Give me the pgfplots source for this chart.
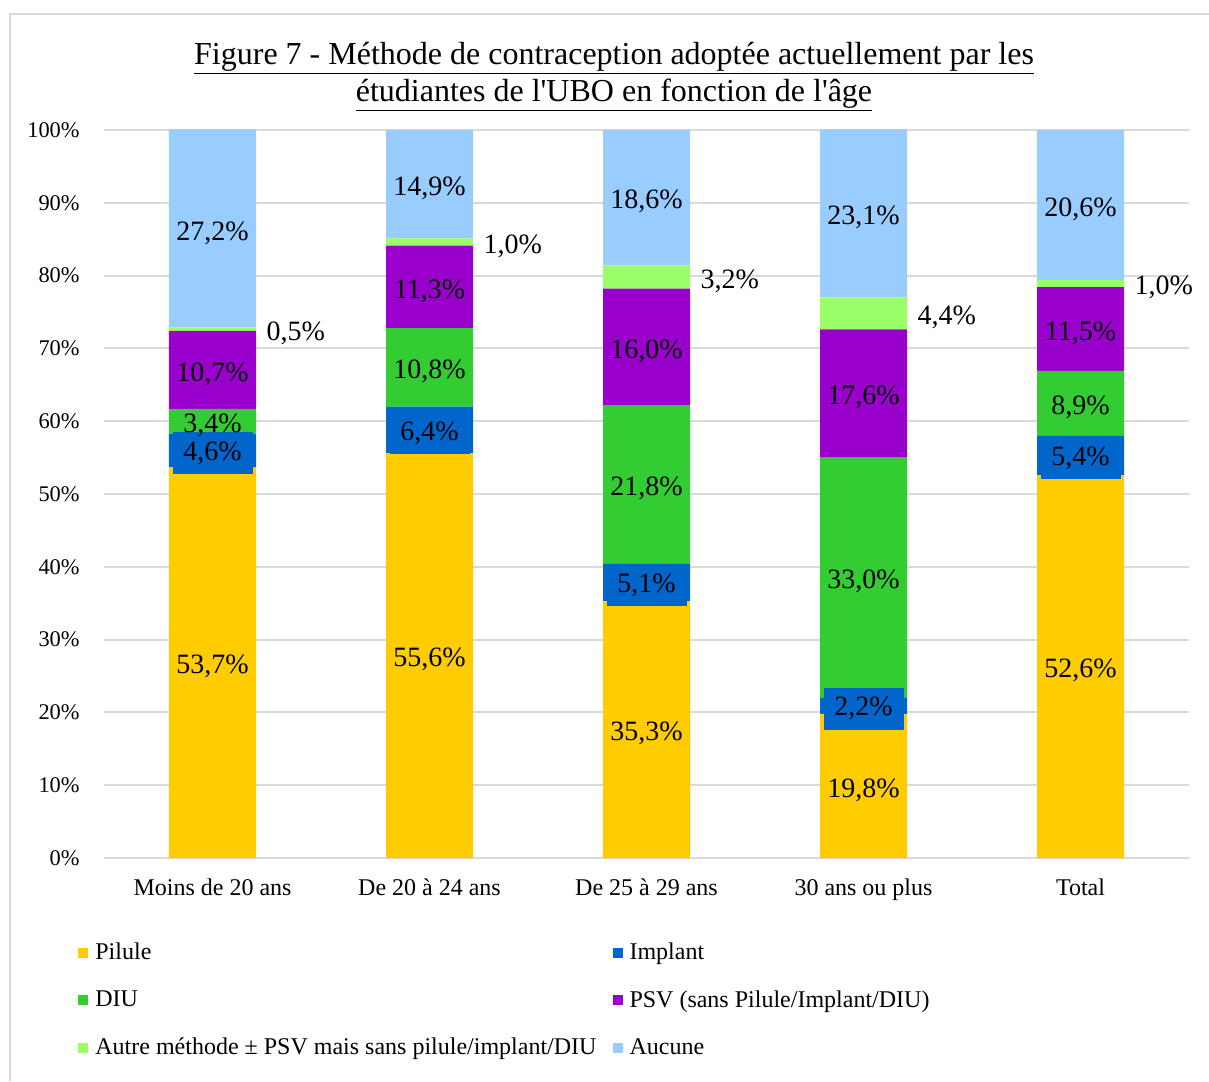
\documentclass[border=0pt]{standalone}
\usepackage{pgfplots}
\pgfplotsset{compat=1.18}
\usepackage{fontspec}
\setmainfont{Liberation Serif}[Ligatures=TeXOff]
\definecolor{cPil}{HTML}{FFCC00}
\definecolor{cImp}{HTML}{0066CC}
\definecolor{cDiu}{HTML}{33CC33}
\definecolor{cPsv}{HTML}{9900CC}
\definecolor{cAut}{HTML}{99FF66}
\definecolor{cAuc}{HTML}{99CCFF}
\definecolor{cGrid}{HTML}{D9D9D9}
\begin{document}
\begin{tikzpicture}[x=0.5pt,y=0.5pt]
\path[use as bounding box] (0,0) rectangle (1209,1081);
\draw[cGrid, line width=1pt] (10,0) -- (10,1067) -- (1209,1067);
\node[align=center, font=\fontsize{16}{18.5}\selectfont] at (614,1004) {\underline{Figure 7 - Méthode de contraception adoptée actuellement par les}\\\underline{étudiantes de l'UBO en fonction de l'âge}};
\begin{axis}[
  at={(52pt,111.5pt)}, anchor=south west,
  scale only axis, width=542.5pt, height=364pt,
  ybar stacked, bar width=43.5pt,
  xmin=-0.5, xmax=4.5, ymin=0, ymax=100,
  xtick={0,1,2,3,4},
  xticklabels={Moins de 20 ans, De 20 à 24 ans, De 25 à 29 ans, 30 ans ou plus, Total},
  ytick={0,10,20,30,40,50,60,70,80,90,100},
  yticklabels={0\%,10\%,20\%,30\%,40\%,50\%,60\%,70\%,80\%,90\%,100\%},
  ymajorgrids, grid style={cGrid, line width=1pt},
  axis line style={draw=none}, major tick length=0pt,
  yticklabel style={anchor=east, inner sep=0pt, xshift=-12pt, font=\fontsize{11.2}{13}\selectfont},
  xticklabel style={anchor=north, inner sep=0pt, yshift=-10pt, font=\fontsize{12}{14}\selectfont},
  legend columns=2,
  legend cell align=left,
  legend style={at={(-0.0295,-0.105)}, anchor=north west, draw=none, fill=none,
    font=\fontsize{12}{14}\selectfont, row sep=10pt,
    /tikz/every even column/.append style={column sep=6pt},
    nodes={inner sep=2pt}},
  legend image code/.code={\fill[#1] (0pt,-2.5pt) rectangle (5pt,2.5pt); \path (6.5pt,0pt);},
]
\addplot[fill=cPil, draw=none] coordinates {(0,53.7) (1,55.6) (2,35.3) (3,19.8) (4,52.6)};
\addlegendentry{Pilule}
\addplot[fill=cImp, draw=none] coordinates {(0,4.6) (1,6.4) (2,5.1) (3,2.2) (4,5.4)};
\addlegendentry{Implant}
\addplot[fill=cDiu, draw=none] coordinates {(0,3.4) (1,10.8) (2,21.8) (3,33.0) (4,8.9)};
\addlegendentry{DIU}
\addplot[fill=cPsv, draw=none] coordinates {(0,10.7) (1,11.3) (2,16.0) (3,17.6) (4,11.5)};
\addlegendentry{PSV (sans Pilule/Implant/DIU)}
\addplot[fill=cAut, draw=none] coordinates {(0,0.5) (1,1.0) (2,3.2) (3,4.4) (4,1.0)};
\addlegendentry{Autre méthode ± PSV mais sans pilule/implant/DIU}
\addplot[fill=cAuc, draw=none] coordinates {(0,27.2) (1,14.9) (2,18.6) (3,23.1) (4,20.6)};
\addlegendentry{Aucune}
\end{axis}
\begin{axis}[
  at={(52pt,111.5pt)}, anchor=south west,
  scale only axis, width=542.5pt, height=364pt,
  xmin=-0.5, xmax=4.5, ymin=0, ymax=100,
  hide axis, clip=false,
  /pgf/number format/assume math mode=true,
  point meta=explicit,
  nodes near coords={\pgfmathprintnumber[fixed,fixed zerofill,precision=1,use comma]{\pgfplotspointmeta}\%},
  every node near coord/.append style={font=\fontsize{14}{16}\selectfont, anchor=center, text=black},
]
% Implant (boxed)
\addplot[draw=none, no markers, every node near coord/.append style={fill=cImp, minimum width=40pt, minimum height=21pt, inner sep=0pt, anchor=center, yshift=-1.5pt}]
  coordinates {(0,56.0)[4.6] (1,58.8)[6.4] (2,37.85)[5.1] (3,20.9)[2.2] (4,55.3)[5.4]};
% Pilule
\addplot[draw=none, no markers, every node near coord/.append style={anchor=center, yshift=-2pt}]
  coordinates {(0,26.85)[53.7] (1,27.8)[55.6] (2,17.65)[35.3] (3,9.9)[19.8] (4,26.3)[52.6]};
% DIU
\addplot[draw=none, no markers, every node near coord/.append style={anchor=center, yshift=-2pt}]
  coordinates {(0,60.0)[3.4] (1,67.4)[10.8] (2,51.3)[21.8] (3,38.5)[33.0] (4,62.45)[8.9]};
% PSV
\addplot[draw=none, no markers, every node near coord/.append style={anchor=center, yshift=-2pt}]
  coordinates {(0,67.05)[10.7] (1,78.45)[11.3] (2,70.2)[16.0] (3,63.8)[17.6] (4,72.65)[11.5]};
% Aucune
\addplot[draw=none, no markers, every node near coord/.append style={anchor=center, yshift=-2pt}]
  coordinates {(0,86.4)[27.2] (1,92.55)[14.9] (2,90.7)[18.6] (3,88.5)[23.1] (4,89.7)[20.6]};
% Autre (to the right)
\addplot[draw=none, no markers, every node near coord/.append style={anchor=west, xshift=23.5pt, yshift=-2pt}]
  coordinates {(0,72.65)[0.5] (1,84.6)[1.0] (2,79.8)[3.2] (3,74.8)[4.4] (4,78.9)[1.0]};
\end{axis}
\end{tikzpicture}
\end{document}
